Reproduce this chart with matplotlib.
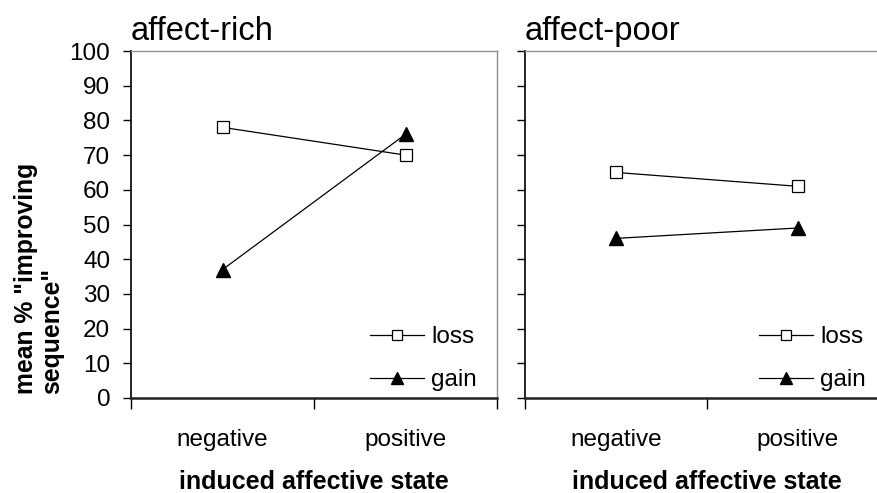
import matplotlib
matplotlib.use("Agg")
import matplotlib.pyplot as plt
from matplotlib.ticker import FixedLocator

plt.rcParams['font.family'] = ['Liberation Sans', 'DejaVu Sans']

states = ["negative", "positive"]
panels = ["affect-rich", "affect-poor"]
loss_rich = [78, 70]
gain_rich = [37, 76]
loss_poor = [65, 61]
gain_poor = [46, 49]
yticks = [0, 10, 20, 30, 40, 50, 60, 70, 80, 90, 100]

fig = plt.figure(figsize=(8.77, 4.93), dpi=100)
ax1 = fig.add_axes([131/877, 1-398/493, 366/877, 347/493])
ax2 = fig.add_axes([525/877, 1-398/493, 364/877, 347/493])

series = [(loss_rich, gain_rich), (loss_poor, gain_poor)]
xs = list(range(len(states)))
legend_right = [(477-131)/366, (866-525)/364]

for i, (ax, title, (loss, gain)) in enumerate(zip([ax1, ax2], panels, series)):
    ax.plot(xs, loss, color='black', lw=0.9, marker='s', markersize=9,
            markerfacecolor='white', markeredgecolor='black', markeredgewidth=0.9,
            label='loss', zorder=3)
    ax.plot(xs, gain, color='black', lw=0.9, marker='^', markersize=10,
            markerfacecolor='black', markeredgecolor='black',
            label='gain', zorder=3)
    ax.set_xlim(-0.5, 1.5)
    ax.set_ylim(0, 100)
    ax.set_yticks(yticks)
    ax.tick_params(axis='y', direction='out', length=6, width=1, labelsize=17.5, pad=9)
    if i == 1:
        ax.tick_params(axis='y', labelleft=False)
    ax.set_xticks(xs)
    ax.set_xticklabels(states, fontsize=17.5)
    ax.tick_params(axis='x', which='major', length=0, pad=22)
    ax.xaxis.set_minor_locator(FixedLocator([-0.5, 0.5, 1.5]))
    ax.tick_params(axis='x', which='minor', direction='out', length=8, width=1)
    ax.spines['left'].set_color('black')
    ax.spines['left'].set_linewidth(1.2)
    ax.spines['bottom'].set_color('#222222')
    ax.spines['bottom'].set_linewidth(1.8)
    ax.spines['top'].set_color('#909090')
    ax.spines['top'].set_linewidth(1.0)
    ax.spines['right'].set_color('#909090')
    ax.spines['right'].set_linewidth(1.0)
    ax.set_title(title, loc='left', fontsize=23.5, pad=8, x=0.0)
    ax.set_xlabel("induced affective state", fontsize=18, fontweight='bold', labelpad=14)
    ax.legend(loc='lower right', frameon=False, fontsize=17.5,
              handlelength=2.2, handletextpad=0.3, labelspacing=0.85,
              borderpad=0.0, borderaxespad=0.0, markerscale=0.8,
              bbox_to_anchor=(legend_right[i], 0.02))

fig.text(39/877, 1-394/493, 'mean % "improving\nsequence"', rotation=90,
         ha='center', va='bottom', multialignment='left',
         fontsize=17.8, fontweight='bold', linespacing=1.1)

fig.savefig("out.png", dpi=100)
